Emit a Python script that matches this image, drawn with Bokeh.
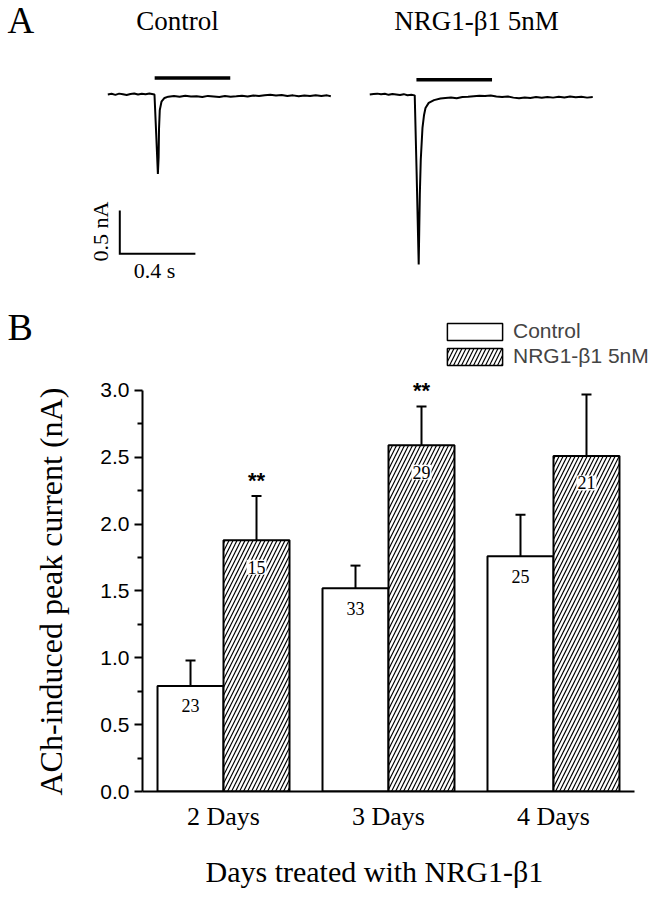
import math
from bokeh.plotting import figure
from bokeh.layouts import column
from bokeh.models import (Range1d, Label, FixedTicker, PrintfTickFormatter, Legend,
                          LegendItem, ColumnDataSource, Whisker, TeeHead, Title)
from bokeh.transform import dodge
from bokeh.core.properties import value
from bokeh.embed import file_html
from bokeh.resources import INLINE

# ---------------- Panel A data (traces) ----------------
ctrl_t = [0.00, 0.02, 0.04, 0.06, 0.08, 0.10, 0.12, 0.14, 0.16, 0.18, 0.20, 0.22, 0.24,
          0.247, 0.256, 0.265, 0.269, 0.271, 0.275, 0.284, 0.30, 0.32,
          0.35, 0.38, 0.41, 0.44, 0.47, 0.50, 0.53, 0.56, 0.59, 0.62, 0.65, 0.68, 0.71,
          0.74, 0.77, 0.80, 0.83, 0.86, 0.89, 0.92, 0.95, 0.98, 1.01, 1.04, 1.07, 1.10,
          1.13, 1.16, 1.18]
ctrl_i = [0.000, 0.008, -0.004, 0.010, 0.002, -0.006, 0.006, 0.012, 0.000, 0.009, 0.004, 0.011, 0.003,
          0.000, -0.45, -0.917, -0.72, -0.40, -0.18, -0.083, -0.040, -0.025,
          -0.018, -0.026, -0.014, -0.024, -0.020, -0.030, -0.016, -0.022, -0.028, -0.018, -0.025,
          -0.020, -0.014, -0.024, -0.012, -0.018, -0.008, -0.004, -0.012, -0.006, -0.016, -0.010,
          -0.020, -0.012, -0.018, -0.008, -0.016, -0.010, -0.020]

nrg_t = [0.00, 0.02, 0.04, 0.06, 0.08, 0.10, 0.12, 0.14, 0.16, 0.18, 0.20, 0.22, 0.238,
         0.248, 0.259, 0.262, 0.265, 0.270, 0.279, 0.287, 0.295, 0.312, 0.34, 0.374,
         0.40, 0.43, 0.46, 0.49, 0.52, 0.55, 0.58, 0.61, 0.64, 0.67, 0.70, 0.73, 0.76, 0.79,
         0.82, 0.85, 0.88, 0.91, 0.94, 0.97, 1.00, 1.03, 1.06, 1.09, 1.12, 1.15, 1.18]
nrg_i = [0.000, 0.006, 0.010, 0.002, 0.008, -0.004, 0.006, 0.000, -0.006, 0.004, -0.008, -0.004, -0.010,
         -0.90, -1.96, -1.55, -1.15, -0.75, -0.385, -0.24, -0.155, -0.097, -0.065, -0.046,
         -0.040, -0.034, -0.044, -0.030, -0.026, -0.020, -0.014, -0.018, -0.012, -0.024, -0.030,
         -0.022, -0.036, -0.044, -0.034, -0.040, -0.030, -0.038, -0.028, -0.036, -0.026, -0.034,
         -0.024, -0.032, -0.026, -0.036, -0.030]

stim_onset = [0.248, 0.247]      # s, drug application start (control, NRG)
stim_dur = 0.40                  # s
scale_t = 0.4                    # s  (scale bar)
scale_i = 0.5                    # nA (scale bar)
panel_titles = ["Control", "NRG1-\u03b21 5nM"]

# ---------------- Panel B data ----------------
days = ["2 Days", "3 Days", "4 Days"]
day_x = [1, 2, 3]
ctrl_mean = [0.79, 1.52, 1.76]
ctrl_sem = [0.19, 0.17, 0.31]
nrg_mean = [1.88, 2.59, 2.51]
nrg_sem = [0.33, 0.29, 0.46]
ctrl_n = ["23", "33", "25"]
nrg_n = ["15", "29", "21"]
sig = ["**", "**", ""]
yticks = [0.0, 0.5, 1.0, 1.5, 2.0, 2.5, 3.0]
yminor = [0.25, 0.75, 1.25, 1.75, 2.25, 2.75]
series_names = ["Control", "NRG1-\u03b21 5nM"]

SERIF = "Liberation Serif"
SANS = "Liberation Sans"
HATCH = dict(hatch_pattern="/", hatch_color="black", hatch_scale=8, hatch_weight=1.2)

# ---------------- Top figure: panel A (+ panel B letter and legend) ----------------
HA = 368
nrg_offset = 1.386  # horizontal placement of the second trace (s)
pa = figure(width=660, height=HA, x_range=Range1d(-0.5677, 2.9244),
            y_range=Range1d(-3.1603, 1.0842), output_backend="svg", toolbar_location=None,
            x_axis_location=None, y_axis_location=None, min_border=0)
pa.frame_align = False
pa.grid.visible = False
pa.outline_line_color = None

pa.line(ctrl_t, ctrl_i, line_color="black", line_width=2)
pa.line([t + nrg_offset for t in nrg_t], nrg_i, line_color="black", line_width=2)

stim_y = [0.19, 0.17]
pa.segment(x0=[stim_onset[0], stim_onset[1] + nrg_offset],
           x1=[stim_onset[0] + stim_dur, stim_onset[1] + nrg_offset + stim_dur],
           y0=stim_y, y1=stim_y, line_color="black", line_width=3.5)

sb_x, sb_y = 0.0635, -1.838
pa.line([sb_x, sb_x, sb_x + scale_t], [sb_y + scale_i, sb_y, sb_y],
        line_color="black", line_width=2, line_join="miter")

def lab(fig, x, y, text, size, **kw):
    fig.add_layout(Label(x=x, y=y, x_units="screen", y_units="screen", text=text,
                         text_font=SERIF, text_font_size=size, text_color="black", **kw))

lab(pa, 7, HA - 40, "A", "37px")
lab(pa, 177, HA - 35, panel_titles[0], "27px", text_align="center")
lab(pa, 476, HA - 35, panel_titles[1], "27px", text_align="center")
lab(pa, 100, HA - 231, "0.5 nA", "22px", angle=math.pi / 2, text_align="center",
    text_baseline="middle")
lab(pa, 154, HA - 282, "0.4 s", "22px", text_align="center")
lab(pa, 7, HA - 347, "B", "38px")

# legend swatches for panel B (same styling as the bars; their data row is NaN)
sw = ColumnDataSource(dict(x=[float("nan")], top=[float("nan")]))
leg_ctrl = pa.vbar(x="x", top="top", width=0.1, source=sw, fill_color="white",
                   line_color="black", line_width=1.5)
leg_nrg = pa.vbar(x="x", top="top", width=0.1, source=sw, fill_color="white",
                  line_color="black", line_width=1.5, **HATCH)
legend = Legend(items=[LegendItem(label=series_names[0], renderers=[leg_ctrl]),
                       LegendItem(label=series_names[1], renderers=[leg_nrg])],
                location=(440, 0), glyph_width=69, glyph_height=21, spacing=1,
                padding=0, margin=0, border_line_color=None, background_fill_alpha=0,
                label_text_font=SANS, label_text_font_size="21px", label_standoff=4,
                label_height=21)
pa.add_layout(legend)

# ---------------- Middle figure: panel B bar chart ----------------
HC = 52
HB = 899 - HA - HC
pb = figure(width=660, height=HB, x_range=Range1d(0.509, 3.491), y_range=Range1d(0, 3.1496),
            output_backend="svg", toolbar_location=None,
            min_border_left=142, min_border_right=26, min_border_top=2,
            min_border_bottom=HB - 2 - 421)
pb.frame_align = False
pb.grid.visible = False
pb.outline_line_color = None

src = ColumnDataSource(dict(
    x=day_x, ctrl=ctrl_mean, nrg=nrg_mean,
    ctrl_hi=[m + s for m, s in zip(ctrl_mean, ctrl_sem)],
    nrg_hi=[m + s for m, s in zip(nrg_mean, nrg_sem)],
    ctrl_n=ctrl_n, nrg_n=nrg_n, sig=sig))

pb.vbar(x=dodge("x", -0.2, range=pb.x_range), top="ctrl", width=0.4, source=src,
        fill_color="white", line_color="black", line_width=2)
pb.vbar(x=dodge("x", 0.2, range=pb.x_range), top="nrg", width=0.4, source=src,
        fill_color="white", line_color="black", line_width=2, **HATCH)

for off, lo, hi in [(-0.2, "ctrl", "ctrl_hi"), (0.2, "nrg", "nrg_hi")]:
    pb.add_layout(Whisker(source=src, base=dodge("x", off, range=pb.x_range), lower=lo, upper=hi,
                          dimension="height", line_color="black", line_width=2, lower_head=None,
                          upper_head=TeeHead(size=10, line_color="black", line_width=2)))

pb.text(x=dodge("x", -0.2, range=pb.x_range), y="ctrl", text="ctrl_n", source=src,
        y_offset=20, text_align="center", text_baseline="alphabetic",
        text_font=value(SERIF), text_font_size="18px", text_color="black")
pb.text(x=dodge("x", 0.2, range=pb.x_range), y="nrg", text="nrg_n", source=src,
        y_offset=27, text_align="center", text_baseline="alphabetic",
        text_font=value(SERIF), text_font_size="18px", text_color="black",
        background_fill_color="white", padding=1)
pb.text(x=dodge("x", 0.2, range=pb.x_range), y="nrg_hi", text="sig", source=src,
        y_offset=-16, text_align="center", text_baseline="alphabetic",
        text_font=value(SANS), text_font_size="22px", text_font_style="bold", text_color="black")

ya = pb.yaxis[0]
ya.bounds = (0, 3)
ya.ticker = FixedTicker(ticks=yticks, minor_ticks=yminor)
ya.formatter = PrintfTickFormatter(format="%.1f")
ya.major_tick_out = 8
ya.major_tick_in = 0
ya.minor_tick_out = 5
ya.minor_tick_in = 0
ya.axis_line_width = 2
ya.major_tick_line_width = 2
ya.minor_tick_line_width = 2
ya.major_label_text_font = SANS
ya.major_label_text_font_size = "21px"
ya.major_label_text_color = "black"
ya.major_label_standoff = 5

xa = pb.xaxis[0]
xa.ticker = FixedTicker(ticks=day_x)
xa.major_label_overrides = {x: d for x, d in zip(day_x, days)}
xa.major_tick_line_color = None
xa.minor_tick_line_color = None
xa.major_tick_out = 0
xa.major_tick_in = 0
xa.axis_line_width = 2
xa.major_label_text_font = SERIF
xa.major_label_text_font_size = "26px"
xa.major_label_text_color = "black"
xa.major_label_standoff = 10

pb.add_layout(Title(text="ACh-induced peak current (nA)", align="left", offset=-4,
                    standoff=58, text_font=SERIF, text_font_size="32px",
                    text_font_style="normal", text_color="black"), "left")

# ---------------- Bottom strip: x-axis title of panel B ----------------
pc = figure(width=660, height=HC, x_range=Range1d(0, 1), y_range=Range1d(0, 1),
            output_backend="svg", toolbar_location=None,
            x_axis_location=None, y_axis_location=None, min_border=0)
pc.frame_align = False
pc.grid.visible = False
pc.outline_line_color = None
lab(pc, 205, 12, "Days treated with NRG1-\u03b21", "30px")

layout = column(pa, pb, pc, spacing=0)
open("out.html", "w").write(file_html(layout, INLINE))
